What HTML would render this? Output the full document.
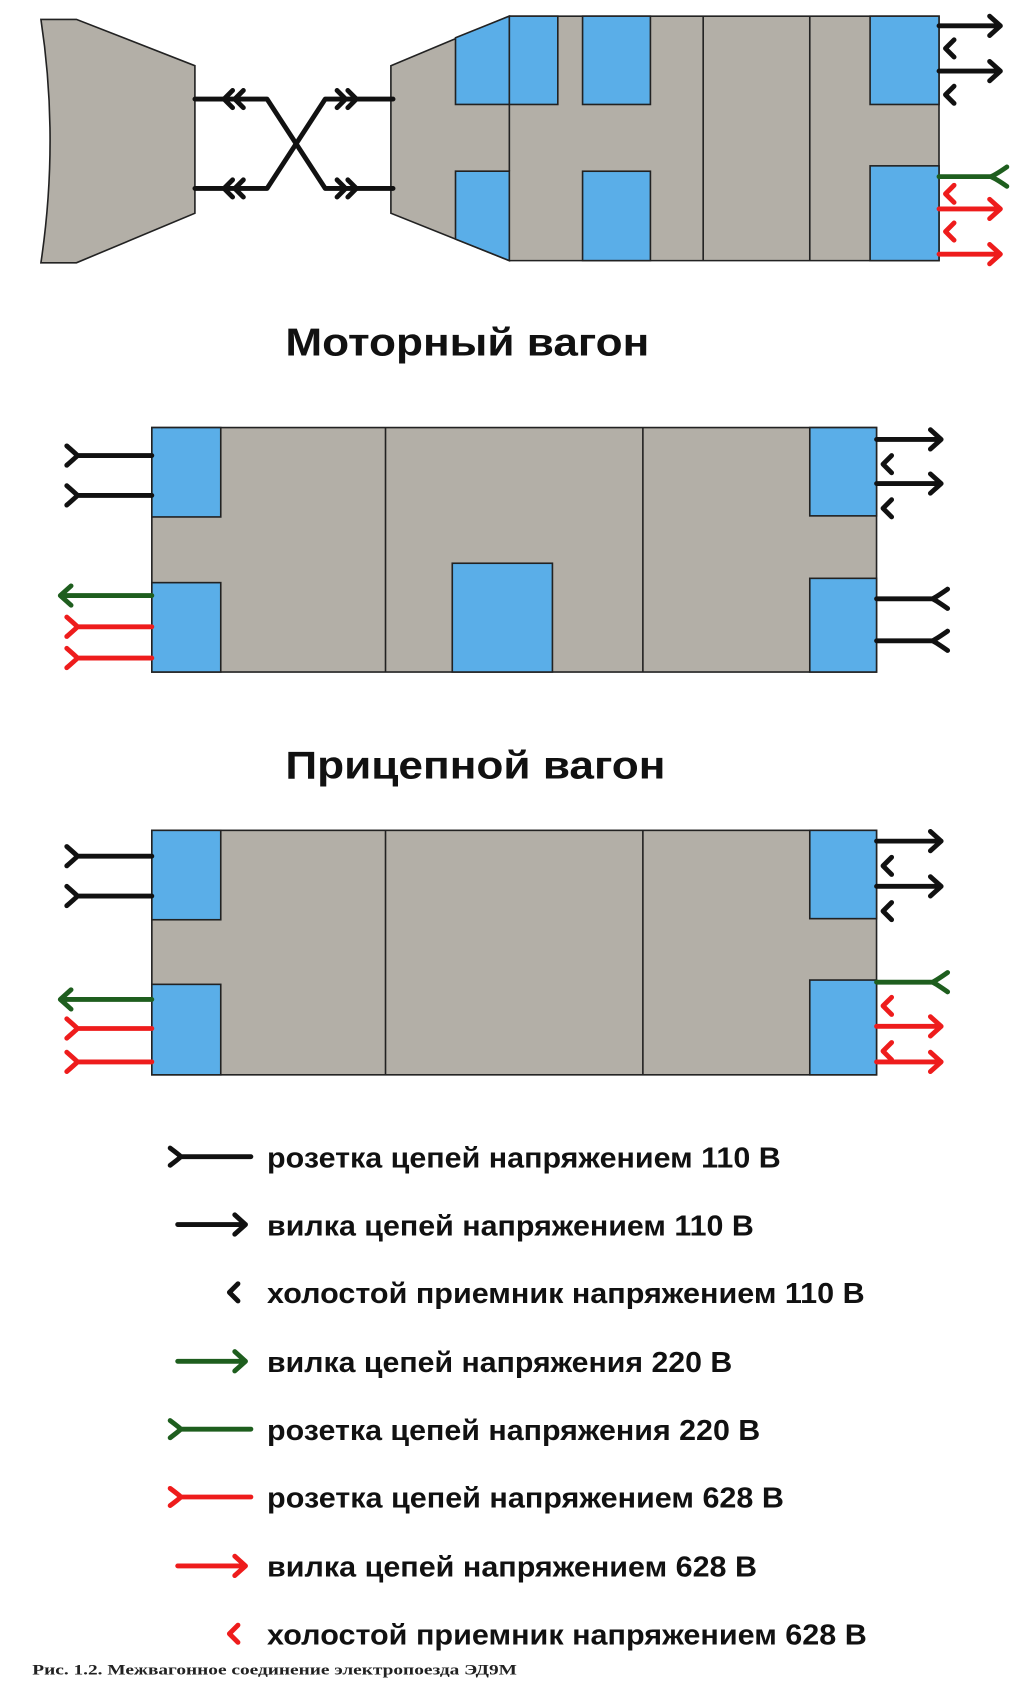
<!DOCTYPE html>
<html><head><meta charset="utf-8"><style>html,body{margin:0;padding:0;background:#fff}svg{display:block}</style></head>
<body>
<svg width="1023" height="1693" viewBox="0 0 950 1572" preserveAspectRatio="none" xmlns="http://www.w3.org/2000/svg">
<g stroke="#222" stroke-width="1.5">
<!-- motor car -->
<path d="M38,18 L71,18 L181,61 L181,198 L71,244 L38,244 Q55,130 38,18 Z" fill="#b3afa7"/>
<path d="M363,61 L473,15 L872,15 L872,242 L473,242 L363,198 Z" fill="#b3afa7"/>
<path d="M423,35 L473,15 L473,97 L423,97 Z" fill="#5aaee8"/>
<rect x="473" y="15" width="45" height="82" fill="#5aaee8"/>
<rect x="541" y="15" width="63" height="82" fill="#5aaee8"/>
<path d="M423,159 L473,159 L473,242 L423,222 Z" fill="#5aaee8"/>
<rect x="541" y="159" width="63" height="83" fill="#5aaee8"/>
<rect x="808" y="15" width="64" height="82" fill="#5aaee8"/>
<rect x="808" y="154" width="64" height="88" fill="#5aaee8"/>
<line x1="473" y1="97" x2="473" y2="159"/><line x1="653" y1="15" x2="653" y2="242"/><line x1="752" y1="15" x2="752" y2="242"/>
<!-- trailer 1 -->
<rect x="141" y="397" width="673" height="227" fill="#b3afa7"/>
<rect x="141" y="397" width="64" height="83" fill="#5aaee8"/>
<rect x="141" y="541" width="64" height="83" fill="#5aaee8"/>
<rect x="420" y="523" width="93" height="101" fill="#5aaee8"/>
<rect x="752" y="397" width="62" height="82" fill="#5aaee8"/>
<rect x="752" y="537" width="62" height="87" fill="#5aaee8"/>
<line x1="358" y1="397" x2="358" y2="624"/><line x1="597" y1="397" x2="597" y2="624"/>
<!-- trailer 2 -->
<rect x="141" y="771" width="673" height="227" fill="#b3afa7"/>
<rect x="141" y="771" width="64" height="83" fill="#5aaee8"/>
<rect x="141" y="914" width="64" height="84" fill="#5aaee8"/>
<rect x="752" y="771" width="62" height="82" fill="#5aaee8"/>
<rect x="752" y="910" width="62" height="88" fill="#5aaee8"/>
<line x1="358" y1="771" x2="358" y2="998"/><line x1="597" y1="771" x2="597" y2="998"/>
</g>
<g fill="none" stroke-width="4.5" stroke-linejoin="round" stroke-linecap="round">
<!-- coupler -->
<g stroke="#111">
<path d="M181,92 L248,92 L302,175 L365,175"/>
<path d="M181,175 L248,175 L302,92 L365,92"/>
<path d="M216,84 L208,92 L216,100 M226,84 L218,92 L226,100"/>
<path d="M216,167 L208,175 L216,183 M226,167 L218,175 L226,183"/>
<path d="M313,84 L321,92 L313,100 M323,84 L331,92 L323,100"/>
<path d="M313,167 L321,175 L313,183 M323,167 L331,175 L323,183"/>
</g>
<!-- motor right -->
<g stroke="#111">
<path d="M872,24 L929,24 M919,15 L929,24 L919,33"/>
<path d="M872,66 L929,66 M919,57 L929,66 L919,75"/>
<path d="M886,37 L878,45 L886,53 M886,80 L878,88 L886,96"/>
</g>
<path stroke="#1e5e1e" d="M872,164 L920,164 M935,155 Q925,162 920,164 Q925,166 935,173"/>
<g stroke="#ee1c1c">
<path d="M886,172 L878,180 L886,188 M886,207 L878,215 L886,223"/>
<path d="M872,194 L929,194 M919,185 L929,194 L919,203"/>
<path d="M872,236 L929,236 M919,227 L929,236 L919,245"/>
</g>
<!-- trailer 1 left -->
<g stroke="#111">
<path d="M141,423 L72,423 M62,414 Q70,421 72,423 Q70,425 62,432"/>
<path d="M141,460 L72,460 M62,451 Q70,458 72,460 Q70,462 62,469"/>
</g>
<path stroke="#1e5e1e" d="M141,553 L56,553 M66,544 L56,553 L66,562"/>
<g stroke="#ee1c1c">
<path d="M141,582 L72,582 M62,573 Q70,580 72,582 Q70,584 62,591"/>
<path d="M141,611 L72,611 M62,602 Q70,609 72,611 Q70,613 62,620"/>
</g>
<!-- trailer 1 right -->
<g stroke="#111">
<path d="M814,408 L874,408 M864,399 L874,408 L864,417"/>
<path d="M814,449 L874,449 M864,440 L874,449 L864,458"/>
<path d="M828,423 L820,431 L828,439 M828,464 L820,472 L828,480"/>
<path d="M814,556 L866,556 M880,547 Q870,554 866,556 Q870,558 880,565"/>
<path d="M814,595 L866,595 M880,586 Q870,593 866,595 Q870,597 880,604"/>
</g>
<!-- trailer 2 left -->
<g stroke="#111">
<path d="M141,795 L72,795 M62,786 Q70,793 72,795 Q70,797 62,804"/>
<path d="M141,832 L72,832 M62,823 Q70,830 72,832 Q70,834 62,841"/>
</g>
<path stroke="#1e5e1e" d="M141,928 L56,928 M66,919 L56,928 L66,937"/>
<g stroke="#ee1c1c">
<path d="M141,955 L72,955 M62,946 Q70,953 72,955 Q70,957 62,964"/>
<path d="M141,986 L72,986 M62,977 Q70,984 72,986 Q70,988 62,995"/>
</g>
<!-- trailer 2 right -->
<g stroke="#111">
<path d="M814,781 L874,781 M864,772 L874,781 L864,790"/>
<path d="M814,823 L874,823 M864,814 L874,823 L864,832"/>
<path d="M828,796 L820,804 L828,812 M828,838 L820,846 L828,854"/>
</g>
<path stroke="#1e5e1e" d="M814,912 L866,912 M880,903 Q870,910 866,912 Q870,914 880,921"/>
<g stroke="#ee1c1c">
<path d="M828,926 L820,934 L828,942 M828,968 L820,976 L828,984"/>
<path d="M814,953 L874,953 M864,944 L874,953 L864,962"/>
<path d="M814,986 L874,986 M864,977 L874,986 L864,995"/>
</g>
<!-- legend -->
<path stroke="#111" d="M168,1074 L233,1074 M158,1066 Q166,1072 168,1074 Q166,1076 158,1082"/>
<path stroke="#111" d="M165,1137 L228,1137 M218,1128 L228,1137 L218,1146"/>
<path stroke="#111" d="M221,1192 L213,1200 L221,1208"/>
<path stroke="#1e5e1e" d="M165,1264 L228,1264 M218,1255 L228,1264 L218,1273"/>
<path stroke="#1e5e1e" d="M168,1327 L233,1327 M158,1319 Q166,1325 168,1327 Q166,1329 158,1335"/>
<path stroke="#ee1c1c" d="M168,1390 L233,1390 M158,1382 Q166,1388 168,1390 Q166,1392 158,1398"/>
<path stroke="#ee1c1c" d="M165,1454 L228,1454 M218,1445 L228,1454 L218,1463"/>
<path stroke="#ee1c1c" d="M221,1509 L213,1517 L221,1525"/>
</g>
<g font-family="Liberation Sans, Arial, sans-serif" font-weight="bold" fill="#111">
<text x="265" y="330" font-size="36" textLength="338" lengthAdjust="spacingAndGlyphs">Моторный вагон</text>
<text x="265" y="723" font-size="36" textLength="353" lengthAdjust="spacingAndGlyphs">Прицепной вагон</text>
<g font-size="27">
<text x="248" y="1084" textLength="477" lengthAdjust="spacingAndGlyphs">розетка цепей напряжением 110 В</text>
<text x="248" y="1147" textLength="452" lengthAdjust="spacingAndGlyphs">вилка цепей напряжением 110 В</text>
<text x="248" y="1210" textLength="555" lengthAdjust="spacingAndGlyphs">холостой приемник напряжением 110 В</text>
<text x="248" y="1274" textLength="432" lengthAdjust="spacingAndGlyphs">вилка цепей напряжения 220 В</text>
<text x="248" y="1337" textLength="458" lengthAdjust="spacingAndGlyphs">розетка цепей напряжения 220 В</text>
<text x="248" y="1400" textLength="480" lengthAdjust="spacingAndGlyphs">розетка цепей напряжением 628 В</text>
<text x="248" y="1464" textLength="455" lengthAdjust="spacingAndGlyphs">вилка цепей напряжением 628 В</text>
<text x="248" y="1527" textLength="557" lengthAdjust="spacingAndGlyphs">холостой приемник напряжением 628 В</text>
</g>
</g>
<text x="30" y="1555" font-family="Liberation Serif, serif" font-weight="bold" font-size="14" fill="#222" textLength="450" lengthAdjust="spacingAndGlyphs">Рис. 1.2. Межвагонное соединение электропоезда ЭД9М</text>
</svg>
</body></html>
